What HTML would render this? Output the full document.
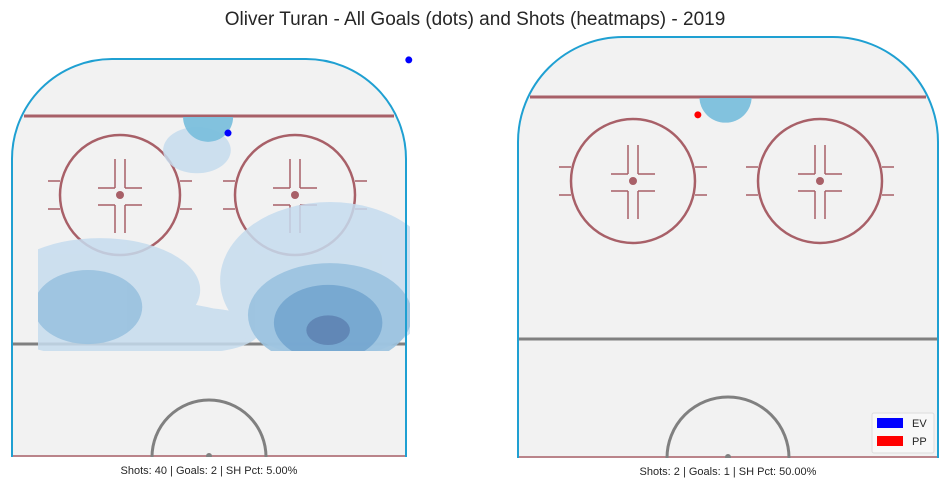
<!DOCTYPE html>
<html><head><meta charset="utf-8">
<style>
html,body{margin:0;padding:0;background:#fff;width:950px;height:489px;overflow:hidden;font-family:"Liberation Sans",sans-serif}
svg{display:block}
</style></head>
<body>
<svg width="950" height="489" viewBox="0 0 950 489">
<text x="475" y="25" text-anchor="middle" font-size="19" fill="#262626">Oliver Turan - All Goals (dots) and Shots (heatmaps) - 2019</text>
<g id="rinks"></g>
</svg>
<script>
// Goals in rink feet coords (x: -42.5..42.5 across, y: feet down from end boards)
const leftGoalX=[43.1,4.1];
const leftGoalY=[0.2,16.0];
const leftGoalType=['EV','EV'];
const rightGoalX=[-6.1];
const rightGoalY=[15.9];
const rightGoalType=['PP'];
// heatmap contour blobs: cx, cy (feet), rx, ry (feet), level
const leftHeatCx=[-23.5,26.1,-1.9,-17.0,-26.1,26.1,25.7,25.7,-2.6,-0.2];
const leftHeatCy=[49.9,47.8,58.6,58.6,53.6,55.3,57.0,58.6,19.7,12.5];
const leftHeatRx=[21.6,23.7,12.9,25.9,11.7,17.7,11.7,4.7,7.3,5.4];
const leftHeatRy=[11.2,16.9,4.8,6.5,8.0,11.2,8.2,3.2,5.0,5.4];
const leftHeatLvl=[1,1,1,1,2,2,3,4,1,5];
const rightHeatCx=[-0.5];
const rightHeatCy=[12.2];
const rightHeatRx=[5.3];
const rightHeatRy=[5.3];
const rightHeatLvl=[5];
const stats=['Shots: 40 | Goals: 2 | SH Pct: 5.00%','Shots: 2 | Goals: 1 | SH Pct: 50.00%'];
const levelColor=['','#c6dcee','#9ac2df','#74a6cf','#5f84b3','#7bbfdc'];
const levelOpacity=[1,0.85,0.9,0.92,0.92,0.95];
const NS='http://www.w3.org/2000/svg';
const root=document.getElementById('rinks');
function mk(t,a,p){const e=document.createElementNS(NS,t);for(const k in a)e.setAttribute(k,a[k]);(p||root).appendChild(e);return e;}
function rink(o){
 const g=mk('g',{});
 
 
 const {L,R,T,B}=o; const W=R-L;
 const sx=x=>L+(x+42.5)*W/85, sy=y=>T+y*(B-T)/86;
 const sr=r=>r*W/85, sry=r=>r*(B-T)/86;
 const rad=o.rad;
 const d=`M${L},${B} L${L},${T+rad} A${rad},${rad} 0 0 1 ${L+rad},${T} L${R-rad},${T} A${rad},${rad} 0 0 1 ${R},${T+rad} L${R},${B} Z`;
 const cid='clip'+o.id;
 const cp=mk('clipPath',{id:cid},g); mk('path',{d},cp);
 const rinkbg=mk('path',{d,fill:'#f2f2f2',stroke:'none'},g);
 
 
 const lines=mk('g',{'clip-path':`url(#${cid})`},g);
 
 
 mk('line',{x1:L+12,x2:R-12,y1:o.gl,y2:o.gl,stroke:'#a86068','stroke-width':3},lines);
 mk('line',{x1:L,x2:R,y1:o.bl,y2:o.bl,stroke:'#808080','stroke-width':3},lines);
 mk('line',{x1:L,x2:R,y1:B-1,y2:B-1,stroke:'#a86068','stroke-width':1.5},lines);
 mk('circle',{cx:o.cc,cy:B,r:o.ccr,fill:'none',stroke:'#808080','stroke-width':3},lines);
 mk('circle',{cx:o.cc,cy:B-1,r:3,fill:'#808080'},lines);
 for(const cx of o.fc){
  const cy=o.fcy, r=o.fr, c='#a86068';
  mk('circle',{cx,cy,r,fill:'none',stroke:c,'stroke-width':2.5},lines);
  mk('circle',{cx,cy,r:4,fill:c},lines);
  for(const s of [-1,1]){
   mk('line',{x1:cx+s*r,x2:cx+s*(r+12),y1:cy-14,y2:cy-14,stroke:c,'stroke-width':1.5},lines);
   mk('line',{x1:cx+s*r,x2:cx+s*(r+12),y1:cy+14,y2:cy+14,stroke:c,'stroke-width':1.5},lines);
   mk('line',{x1:cx+s*5,x2:cx+s*5,y1:cy-36,y2:cy-7,stroke:c,'stroke-width':1.5},lines);
   mk('line',{x1:cx+s*5,x2:cx+s*5,y1:cy+10,y2:cy+38,stroke:c,'stroke-width':1.5},lines);
   mk('line',{x1:cx+s*5,x2:cx+s*22,y1:cy-7,y2:cy-7,stroke:c,'stroke-width':1.5},lines);
   mk('line',{x1:cx+s*5,x2:cx+s*22,y1:cy+10,y2:cy+10,stroke:c,'stroke-width':1.5},lines);
  }
 }
 // heatmap
 const hid='hclip'+o.id;
 const hc=mk('clipPath',{id:hid},g);
 for(const r of o.hclip) mk('rect',{x:r[0],y:r[1],width:r[2],height:r[3]},hc);
 const hg=mk('g',{'clip-path':`url(#${hid})`},g);
 
 
 for(let lv=1;lv<levelColor.length;lv++){
  const lg2=mk('g',{opacity:levelOpacity[lv]},hg);
  
  
  for(let i=0;i<o.hcx.length;i++){
   if(o.hl[i]!==lv) continue;
   const e=mk('ellipse',{cx:sx(o.hcx[i]),cy:sy(o.hcy[i]),rx:sr(o.hrx[i]),ry:sry(o.hry[i]),fill:levelColor[lv]},lg2);
   
   
  }
 }
 const border=mk('path',{d:d.replace(/ Z$/,''),fill:'none',stroke:'#1fa0d2','stroke-width':2},g);
 
 
 for(let i=0;i<o.gx.length;i++){
  const dot=mk('circle',{cx:sx(o.gx[i]),cy:sy(o.gy[i]),r:3.5,fill:o.gt[i]=='EV'?'#0000ff':'#ff0000'},g);
  
  
 }
 const t=mk('text',{x:(L+R)/2,y:B+17,'text-anchor':'middle','font-size':11,fill:'#262626'},g);
 t.textContent=o.stat;
 
 
}
rink({id:1,name:'left-rink',L:12,R:406,T:59,B:457,rad:100,gl:116,bl:344,cc:209,ccr:57,fc:[120,295],fcy:195,fr:60,
 hclip:[[38,200,372,151],[150,117,120,70]],
 hcx:leftHeatCx,hcy:leftHeatCy,hrx:leftHeatRx,hry:leftHeatRy,hl:leftHeatLvl,
 gx:leftGoalX,gy:leftGoalY,gt:leftGoalType,stat:stats[0]});
rink({id:2,name:'right-rink',L:518,R:938,T:37,B:458,rad:105,gl:97,bl:339,cc:728,ccr:61,fc:[633,820],fcy:181,fr:62,
 hclip:[[690,98,80,40]],
 hcx:rightHeatCx,hcy:rightHeatCy,hrx:rightHeatRx,hry:rightHeatRy,hl:rightHeatLvl,
 gx:rightGoalX,gy:rightGoalY,gt:rightGoalType,stat:stats[1]});
// legend
const lg=mk('g',{});


mk('rect',{x:872,y:413,width:62,height:40,rx:2,fill:'#f8f8f8',stroke:'#dddddd'},lg);
const ev=mk('rect',{x:877,y:418,width:26,height:10,fill:'#0000ff'},lg);


const pp=mk('rect',{x:877,y:436,width:26,height:10,fill:'#ff0000'},lg);


const t1=mk('text',{x:912,y:427,'font-size':11,fill:'#262626'},lg);t1.textContent='EV';
const t2=mk('text',{x:912,y:445,'font-size':11,fill:'#262626'},lg);t2.textContent='PP';
</script>
</body></html>
